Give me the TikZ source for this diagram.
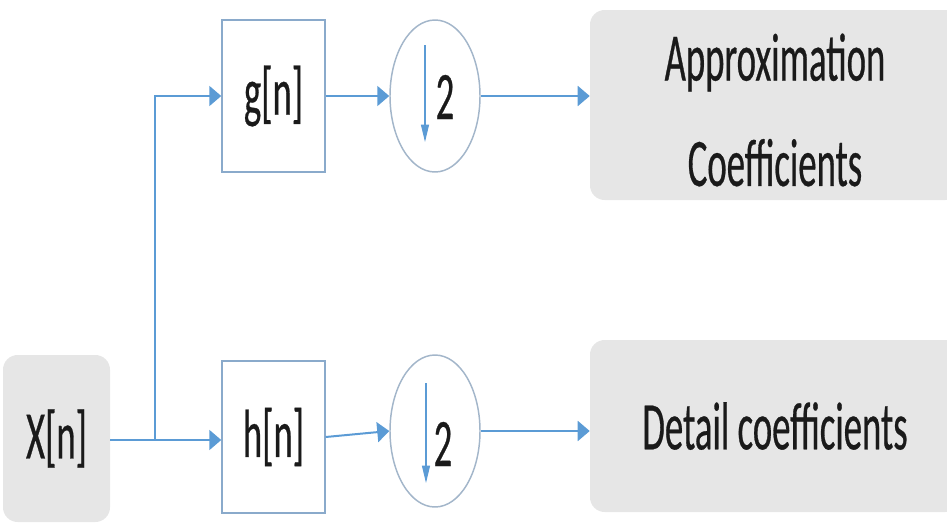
\documentclass[tikz,border=0pt]{standalone}
\usepackage{fontspec}
\setmainfont[FakeStretch=0.54, FakeBold=0.4]{Carlito}
\usetikzlibrary{arrows.meta,shapes.geometric}
\definecolor{linkblue}{HTML}{5B9BD5}
\definecolor{boxedge}{HTML}{8AAACB}
\definecolor{ringedge}{HTML}{A3B6CA}
\definecolor{panel}{HTML}{E6E6E6}
\definecolor{ink}{HTML}{1A1A1A}
\tikzset{
  lbl/.style={font=\fontsize{51}{79}\selectfont, text=ink},
  filterbox/.style={draw=boxedge, line width=1.1pt, fill=white, minimum width=77.25pt, minimum height=114pt, inner sep=0pt, lbl},
  ring/.style={ellipse, draw=ringedge, line width=1.1pt, fill=white, minimum width=67.5pt, minimum height=114pt, inner sep=0pt},
  panelbox/.style={fill=panel, rounded corners=11pt, inner sep=0pt, lbl, align=center},
  link/.style={draw=linkblue, line width=1.5pt, -{Triangle[length=9pt, width=15pt]}},
  downarrow/.style={draw=linkblue, line width=0.8pt, -{Triangle[length=13pt, width=6pt]}}
}
\begin{document}
\begin{tikzpicture}[x=0.75pt, y=-0.75pt]
\clip (0,0) rectangle (947,525);

% input block
\node[panelbox, minimum width=80.25pt, minimum height=125.25pt] (x) at (56.5,438.5) {X[n]};

% filters
\node[filterbox] (g) at (273.5,96) {g[n]};
\node[filterbox] (h) at (273.5,437) {h[n]};

% downsamplers
\node[ring] (ta) at (435,96) {};
\node[ring] (tb) at (435,431) {};
\coordinate (ta1) at (425,45);
\coordinate (ta2) at (425,142);
\coordinate (tb1) at (426,383);
\coordinate (tb2) at (426,483);
\draw[downarrow] (ta1) -- (ta2);
\draw[downarrow] (tb1) -- (tb2);
\node[lbl] (na) at (445,97) {2};
\node[lbl] (nb) at (443,444) {2};

% outputs
\node[panelbox, minimum width=277.5pt, minimum height=142.5pt] (approx) at (775,105) {};
\node[lbl, align=center] (approxtext) at (775,110) {Approximation\\Coefficients};
\node[panelbox, minimum width=277.5pt, minimum height=129pt] (detail) at (775,426) {Detail coefficients};

% connectors
\coordinate (j) at (155,440);
\draw[link] (x.east |- j) -- (h.west |- j);
\draw[link] (j) |- (g.west);
\draw[link] (g.east) -- (ta.west);
\draw[link] (h.east) -- (tb.west);
\draw[link] (ta.east) -- (approx.west |- ta.east);
\draw[link] (tb.east) -- (detail.west |- tb.east);
\end{tikzpicture}
\end{document}
